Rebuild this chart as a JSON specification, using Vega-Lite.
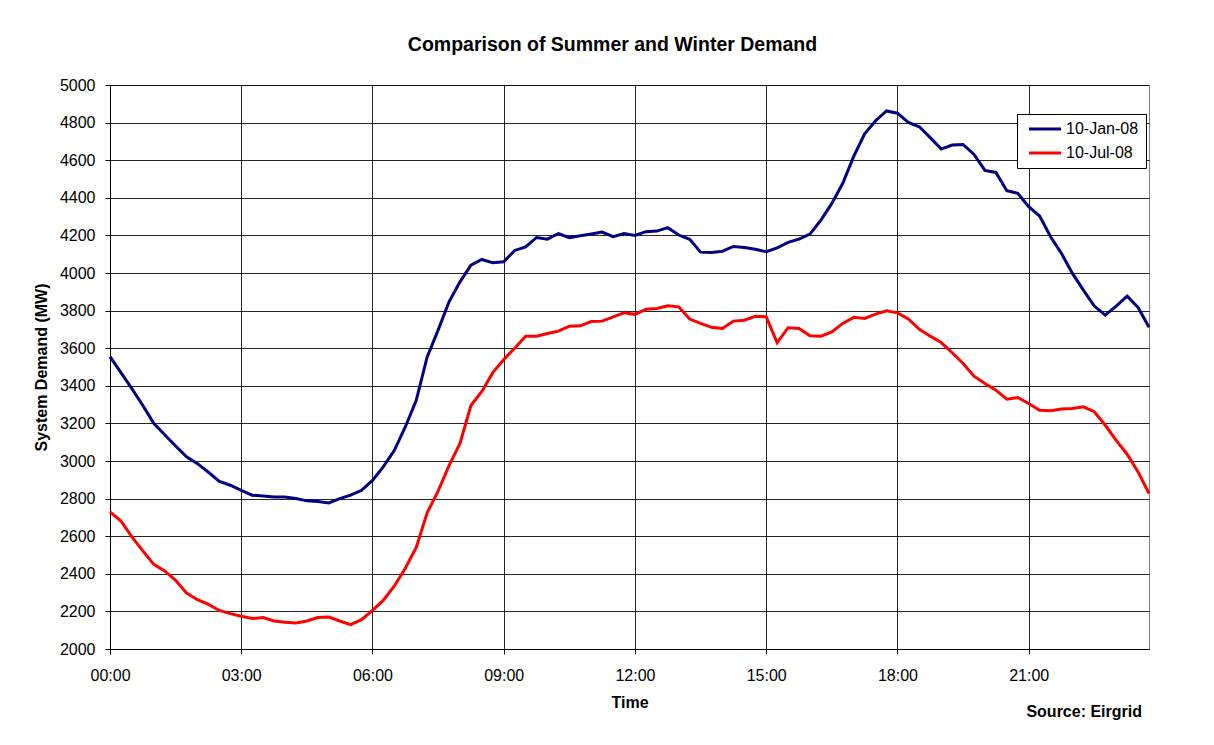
{
  "$schema": "https://vega.github.io/schema/vega-lite/v6.json",
  "autosize": "none",
  "width": 1039,
  "height": 564,
  "padding": {"left": 110, "top": 85, "right": 65, "bottom": 96},
  "background": "#ffffff",
  "title": {"text": "Comparison of Summer and Winter Demand", "fontSize": 19.5, "fontWeight": "bold", "font": "Liberation Sans", "color": "#000000", "anchor": "middle", "offset": 22, "dx": -17},
  "config": {
    "font": "Liberation Sans",
    "view": {"stroke": "#808080", "strokeWidth": 1},
    "axis": {"domainColor": "#000000", "tickColor": "#000000", "tickSize": 5, "gridColor": "#000000", "gridWidth": 1, "gridOpacity": 0.85, "labelFont": "Liberation Sans", "labelFontSize": 16, "labelColor": "#000000", "titleFont": "Liberation Sans", "titleFontSize": 16, "titleFontWeight": "bold", "titleColor": "#000000", "labelOverlap": false},
    "legend": {"orient": "none", "legendX": 907, "legendY": 29, "symbolType": "M-0.6,0H5.8", "symbolSize": 100, "symbolStrokeWidth": 3, "labelFont": "Liberation Sans", "labelFontSize": 16, "labelColor": "#000000", "strokeColor": "#000000", "fillColor": "#ffffff", "padding": 7, "rowPadding": 8, "labelOffset": 26}
  },
  "layer": [
    {
      "data": {"values": [
        {"time":"00:00","date":"10-Jan-08","demand":3555},{"time":"00:15","date":"10-Jan-08","demand":3470},{"time":"00:30","date":"10-Jan-08","demand":3385},{"time":"00:45","date":"10-Jan-08","demand":3295},
        {"time":"01:00","date":"10-Jan-08","demand":3200},{"time":"01:15","date":"10-Jan-08","demand":3140},{"time":"01:30","date":"10-Jan-08","demand":3080},{"time":"01:45","date":"10-Jan-08","demand":3022},
        {"time":"02:00","date":"10-Jan-08","demand":2986},{"time":"02:15","date":"10-Jan-08","demand":2940},{"time":"02:30","date":"10-Jan-08","demand":2892},{"time":"02:45","date":"10-Jan-08","demand":2871},
        {"time":"03:00","date":"10-Jan-08","demand":2844},{"time":"03:15","date":"10-Jan-08","demand":2818},{"time":"03:30","date":"10-Jan-08","demand":2814},{"time":"03:45","date":"10-Jan-08","demand":2809},
        {"time":"04:00","date":"10-Jan-08","demand":2809},{"time":"04:15","date":"10-Jan-08","demand":2800},{"time":"04:30","date":"10-Jan-08","demand":2788},{"time":"04:45","date":"10-Jan-08","demand":2785},
        {"time":"05:00","date":"10-Jan-08","demand":2777},{"time":"05:15","date":"10-Jan-08","demand":2800},{"time":"05:30","date":"10-Jan-08","demand":2818},{"time":"05:45","date":"10-Jan-08","demand":2844},
        {"time":"06:00","date":"10-Jan-08","demand":2897},{"time":"06:15","date":"10-Jan-08","demand":2970},{"time":"06:30","date":"10-Jan-08","demand":3057},{"time":"06:45","date":"10-Jan-08","demand":3181},
        {"time":"07:00","date":"10-Jan-08","demand":3323},{"time":"07:15","date":"10-Jan-08","demand":3554},{"time":"07:30","date":"10-Jan-08","demand":3696},{"time":"07:45","date":"10-Jan-08","demand":3847},
        {"time":"08:00","date":"10-Jan-08","demand":3953},{"time":"08:15","date":"10-Jan-08","demand":4042},{"time":"08:30","date":"10-Jan-08","demand":4072},{"time":"08:45","date":"10-Jan-08","demand":4054},
        {"time":"09:00","date":"10-Jan-08","demand":4060},{"time":"09:15","date":"10-Jan-08","demand":4120},{"time":"09:30","date":"10-Jan-08","demand":4139},{"time":"09:45","date":"10-Jan-08","demand":4189},
        {"time":"10:00","date":"10-Jan-08","demand":4180},{"time":"10:15","date":"10-Jan-08","demand":4210},{"time":"10:30","date":"10-Jan-08","demand":4188},{"time":"10:45","date":"10-Jan-08","demand":4198},
        {"time":"11:00","date":"10-Jan-08","demand":4207},{"time":"11:15","date":"10-Jan-08","demand":4218},{"time":"11:30","date":"10-Jan-08","demand":4193},{"time":"11:45","date":"10-Jan-08","demand":4210},
        {"time":"12:00","date":"10-Jan-08","demand":4200},{"time":"12:15","date":"10-Jan-08","demand":4220},{"time":"12:30","date":"10-Jan-08","demand":4223},{"time":"12:45","date":"10-Jan-08","demand":4241},
        {"time":"13:00","date":"10-Jan-08","demand":4202},{"time":"13:15","date":"10-Jan-08","demand":4179},{"time":"13:30","date":"10-Jan-08","demand":4111},{"time":"13:45","date":"10-Jan-08","demand":4109},
        {"time":"14:00","date":"10-Jan-08","demand":4116},{"time":"14:15","date":"10-Jan-08","demand":4141},{"time":"14:30","date":"10-Jan-08","demand":4136},{"time":"14:45","date":"10-Jan-08","demand":4126},
        {"time":"15:00","date":"10-Jan-08","demand":4113},{"time":"15:15","date":"10-Jan-08","demand":4134},{"time":"15:30","date":"10-Jan-08","demand":4163},{"time":"15:45","date":"10-Jan-08","demand":4180},
        {"time":"16:00","date":"10-Jan-08","demand":4207},{"time":"16:15","date":"10-Jan-08","demand":4281},{"time":"16:30","date":"10-Jan-08","demand":4370},{"time":"16:45","date":"10-Jan-08","demand":4477},
        {"time":"17:00","date":"10-Jan-08","demand":4620},{"time":"17:15","date":"10-Jan-08","demand":4740},{"time":"17:30","date":"10-Jan-08","demand":4810},{"time":"17:45","date":"10-Jan-08","demand":4862},
        {"time":"18:00","date":"10-Jan-08","demand":4850},{"time":"18:15","date":"10-Jan-08","demand":4801},{"time":"18:30","date":"10-Jan-08","demand":4778},{"time":"18:45","date":"10-Jan-08","demand":4720},
        {"time":"19:00","date":"10-Jan-08","demand":4659},{"time":"19:15","date":"10-Jan-08","demand":4681},{"time":"19:30","date":"10-Jan-08","demand":4684},{"time":"19:45","date":"10-Jan-08","demand":4631},
        {"time":"20:00","date":"10-Jan-08","demand":4546},{"time":"20:15","date":"10-Jan-08","demand":4535},{"time":"20:30","date":"10-Jan-08","demand":4438},{"time":"20:45","date":"10-Jan-08","demand":4424},
        {"time":"21:00","date":"10-Jan-08","demand":4353},{"time":"21:15","date":"10-Jan-08","demand":4303},{"time":"21:30","date":"10-Jan-08","demand":4193},{"time":"21:45","date":"10-Jan-08","demand":4104},
        {"time":"22:00","date":"10-Jan-08","demand":3998},{"time":"22:15","date":"10-Jan-08","demand":3909},{"time":"22:30","date":"10-Jan-08","demand":3824},{"time":"22:45","date":"10-Jan-08","demand":3776},
        {"time":"23:00","date":"10-Jan-08","demand":3824},{"time":"23:15","date":"10-Jan-08","demand":3877},{"time":"23:30","date":"10-Jan-08","demand":3817},{"time":"23:45","date":"10-Jan-08","demand":3711},
        {"time":"00:00","date":"10-Jul-08","demand":2729},{"time":"00:15","date":"10-Jul-08","demand":2681},{"time":"00:30","date":"10-Jul-08","demand":2596},{"time":"00:45","date":"10-Jul-08","demand":2522},
        {"time":"01:00","date":"10-Jul-08","demand":2450},{"time":"01:15","date":"10-Jul-08","demand":2415},{"time":"01:30","date":"10-Jul-08","demand":2365},{"time":"01:45","date":"10-Jul-08","demand":2298},
        {"time":"02:00","date":"10-Jul-08","demand":2262},{"time":"02:15","date":"10-Jul-08","demand":2237},{"time":"02:30","date":"10-Jul-08","demand":2205},{"time":"02:45","date":"10-Jul-08","demand":2188},
        {"time":"03:00","date":"10-Jul-08","demand":2174},{"time":"03:15","date":"10-Jul-08","demand":2162},{"time":"03:30","date":"10-Jul-08","demand":2167},{"time":"03:45","date":"10-Jul-08","demand":2149},
        {"time":"04:00","date":"10-Jul-08","demand":2142},{"time":"04:15","date":"10-Jul-08","demand":2138},{"time":"04:30","date":"10-Jul-08","demand":2149},{"time":"04:45","date":"10-Jul-08","demand":2167},
        {"time":"05:00","date":"10-Jul-08","demand":2170},{"time":"05:15","date":"10-Jul-08","demand":2149},{"time":"05:30","date":"10-Jul-08","demand":2130},{"time":"05:45","date":"10-Jul-08","demand":2156},
        {"time":"06:00","date":"10-Jul-08","demand":2205},{"time":"06:15","date":"10-Jul-08","demand":2260},{"time":"06:30","date":"10-Jul-08","demand":2335},{"time":"06:45","date":"10-Jul-08","demand":2430},
        {"time":"07:00","date":"10-Jul-08","demand":2540},{"time":"07:15","date":"10-Jul-08","demand":2725},{"time":"07:30","date":"10-Jul-08","demand":2840},{"time":"07:45","date":"10-Jul-08","demand":2975},
        {"time":"08:00","date":"10-Jul-08","demand":3093},{"time":"08:15","date":"10-Jul-08","demand":3295},{"time":"08:30","date":"10-Jul-08","demand":3370},{"time":"08:45","date":"10-Jul-08","demand":3470},
        {"time":"09:00","date":"10-Jul-08","demand":3540},{"time":"09:15","date":"10-Jul-08","demand":3600},{"time":"09:30","date":"10-Jul-08","demand":3664},{"time":"09:45","date":"10-Jul-08","demand":3664},
        {"time":"10:00","date":"10-Jul-08","demand":3678},{"time":"10:15","date":"10-Jul-08","demand":3691},{"time":"10:30","date":"10-Jul-08","demand":3717},{"time":"10:45","date":"10-Jul-08","demand":3719},
        {"time":"11:00","date":"10-Jul-08","demand":3742},{"time":"11:15","date":"10-Jul-08","demand":3744},{"time":"11:30","date":"10-Jul-08","demand":3767},{"time":"11:45","date":"10-Jul-08","demand":3788},
        {"time":"12:00","date":"10-Jul-08","demand":3780},{"time":"12:15","date":"10-Jul-08","demand":3807},{"time":"12:30","date":"10-Jul-08","demand":3811},{"time":"12:45","date":"10-Jul-08","demand":3826},
        {"time":"13:00","date":"10-Jul-08","demand":3820},{"time":"13:15","date":"10-Jul-08","demand":3755},{"time":"13:30","date":"10-Jul-08","demand":3732},{"time":"13:45","date":"10-Jul-08","demand":3711},
        {"time":"14:00","date":"10-Jul-08","demand":3705},{"time":"14:15","date":"10-Jul-08","demand":3744},{"time":"14:30","date":"10-Jul-08","demand":3749},{"time":"14:45","date":"10-Jul-08","demand":3770},
        {"time":"15:00","date":"10-Jul-08","demand":3767},{"time":"15:15","date":"10-Jul-08","demand":3629},{"time":"15:30","date":"10-Jul-08","demand":3709},{"time":"15:45","date":"10-Jul-08","demand":3705},
        {"time":"16:00","date":"10-Jul-08","demand":3666},{"time":"16:15","date":"10-Jul-08","demand":3664},{"time":"16:30","date":"10-Jul-08","demand":3687},{"time":"16:45","date":"10-Jul-08","demand":3732},
        {"time":"17:00","date":"10-Jul-08","demand":3764},{"time":"17:15","date":"10-Jul-08","demand":3758},{"time":"17:30","date":"10-Jul-08","demand":3781},{"time":"17:45","date":"10-Jul-08","demand":3799},
        {"time":"18:00","date":"10-Jul-08","demand":3788},{"time":"18:15","date":"10-Jul-08","demand":3756},{"time":"18:30","date":"10-Jul-08","demand":3700},{"time":"18:45","date":"10-Jul-08","demand":3664},
        {"time":"19:00","date":"10-Jul-08","demand":3630},{"time":"19:15","date":"10-Jul-08","demand":3576},{"time":"19:30","date":"10-Jul-08","demand":3519},{"time":"19:45","date":"10-Jul-08","demand":3451},
        {"time":"20:00","date":"10-Jul-08","demand":3412},{"time":"20:15","date":"10-Jul-08","demand":3377},{"time":"20:30","date":"10-Jul-08","demand":3329},{"time":"20:45","date":"10-Jul-08","demand":3338},
        {"time":"21:00","date":"10-Jul-08","demand":3306},{"time":"21:15","date":"10-Jul-08","demand":3270},{"time":"21:30","date":"10-Jul-08","demand":3267},{"time":"21:45","date":"10-Jul-08","demand":3276},
        {"time":"22:00","date":"10-Jul-08","demand":3279},{"time":"22:15","date":"10-Jul-08","demand":3288},{"time":"22:30","date":"10-Jul-08","demand":3262},{"time":"22:45","date":"10-Jul-08","demand":3190},
        {"time":"23:00","date":"10-Jul-08","demand":3110},{"time":"23:15","date":"10-Jul-08","demand":3036},{"time":"23:30","date":"10-Jul-08","demand":2942},{"time":"23:45","date":"10-Jul-08","demand":2827}
      ]},
      "mark": {"type": "line", "strokeWidth": 3, "interpolate": "linear"},
      "encoding": {
        "x": {"field": "time", "type": "ordinal", "scale": {"type": "point", "padding": 0}, "axis": {"title": "Time", "values": ["00:00","03:00","06:00","09:00","12:00","15:00","18:00","21:00"], "labelAngle": 0, "grid": true, "labelPadding": 13, "titlePadding": 11}},
        "y": {"field": "demand", "type": "quantitative", "scale": {"domain": [2000, 5000], "nice": false, "zero": false}, "axis": {"title": "System Demand (MW)", "format": "d", "values": [2000,2200,2400,2600,2800,3000,3200,3400,3600,3800,4000,4200,4400,4600,4800,5000], "tickCount": 16, "grid": true, "labelPadding": 10, "titlePadding": 10}},
        "color": {"field": "date", "type": "nominal", "scale": {"domain": ["10-Jan-08", "10-Jul-08"], "range": ["#000080", "#ff0000"]}, "legend": {"title": null}}
      }
    },
    {
      "data": {"values": [{"label": "Source: Eirgrid"}]},
      "mark": {"type": "text", "align": "right", "baseline": "middle", "fontSize": 16, "fontWeight": "bold", "font": "Liberation Sans", "color": "#000000", "dx": -7, "dy": 63},
      "encoding": {
        "x": {"datum": "23:45"},
        "y": {"datum": 2000},
        "text": {"field": "label"}
      }
    }
  ]
}
